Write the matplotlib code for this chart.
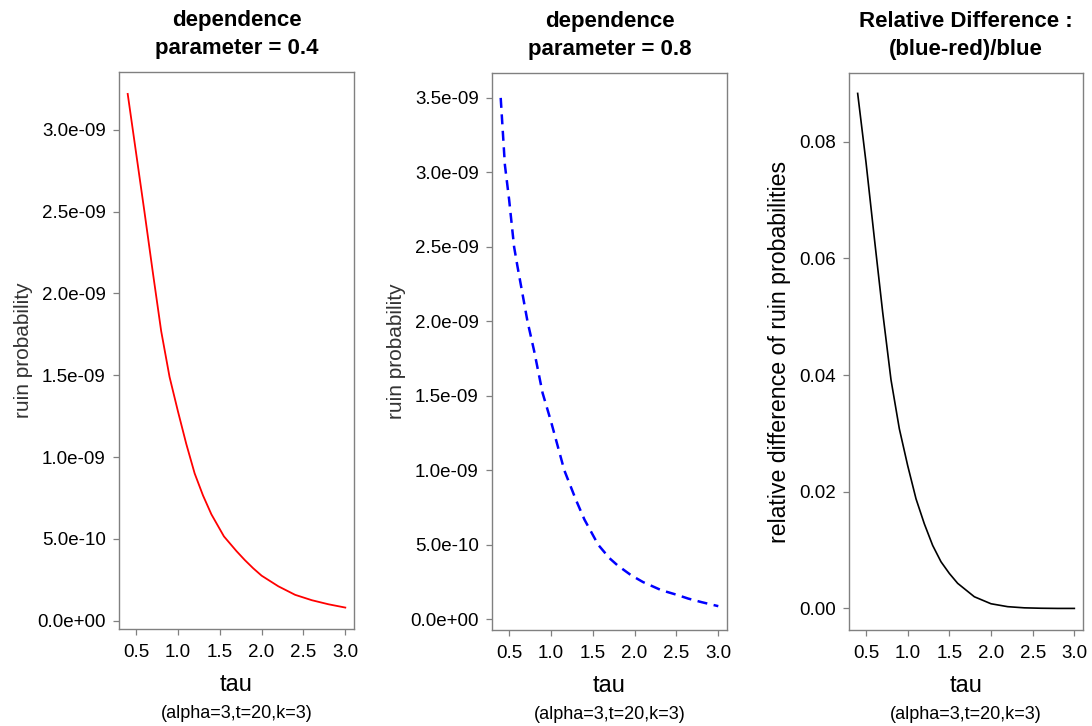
import matplotlib
matplotlib.use("Agg")
import matplotlib.pyplot as plt
from matplotlib.ticker import FuncFormatter
import numpy as np

plt.rcParams['font.family'] = ['Liberation Sans', 'DejaVu Sans']

# values
tau_red = [0.4, 0.5, 0.6, 0.7, 0.8, 0.9, 1.0, 1.1, 1.2, 1.3, 1.4, 1.5, 1.55, 1.6,
           1.7, 1.8, 1.9, 2.0, 2.2, 2.4, 2.6, 2.8, 3.0]
ruin_red = [3.22, 2.86, 2.50, 2.13, 1.77, 1.49, 1.28, 1.08, 0.90, 0.765, 0.65, 0.56,
            0.515, 0.485, 0.425, 0.37, 0.32, 0.275, 0.21, 0.158, 0.125, 0.10, 0.08]  # x 1e-9

tau_blue = [0.4, 0.45, 0.5, 0.56, 0.6, 0.72, 0.8, 0.9, 1.0, 1.16, 1.3, 1.4, 1.565,
            1.7, 1.8, 1.96, 2.1, 2.32, 2.5, 2.64, 2.8, 3.0]
ruin_blue = [3.50, 3.05, 2.82, 2.50, 2.37, 2.00, 1.80, 1.52, 1.33, 1.00, 0.80, 0.67,
             0.50, 0.41, 0.36, 0.295, 0.25, 0.195, 0.165, 0.139, 0.115, 0.088]  # x 1e-9

tau_diff = [0.4, 0.5, 0.6, 0.7, 0.8, 0.9, 1.0, 1.1, 1.2, 1.3, 1.4, 1.5, 1.6, 1.8,
            2.0, 2.2, 2.4, 2.6, 2.8, 3.0]
rel_diff = [0.0883, 0.0765, 0.0635, 0.0508, 0.0392, 0.0308, 0.0245, 0.0188, 0.0145,
            0.0108, 0.0080, 0.0060, 0.0043, 0.0020, 0.0008, 0.0003, 0.0001,
            0.00003, 0.0, 0.0]

xticks = [0.5, 1.0, 1.5, 2.0, 2.5, 3.0]
prob_ticks = [0.0, 0.5e-9, 1.0e-9, 1.5e-9, 2.0e-9, 2.5e-9, 3.0e-9, 3.5e-9]
diff_ticks = [0.00, 0.02, 0.04, 0.06, 0.08]

fig = plt.figure(figsize=(10.92, 7.26), dpi=100)
W, H = 1092.0, 726.0

def box(x0, x1, y0, y1):
    return [x0 / W, 1 - y1 / H, (x1 - x0) / W, (y1 - y0) / H]

ax1 = fig.add_axes(box(119, 354, 72, 629))
ax2 = fig.add_axes(box(492, 727, 73, 630))
ax3 = fig.add_axes(box(849, 1083, 73, 630))

ax1.plot(tau_red, np.array(ruin_red) * 1e-9, color='red', lw=1.3)
ax2.plot(tau_blue, np.array(ruin_blue) * 1e-9, color='blue', lw=1.8,
         dashes=(4, 2.6))
ax3.plot(tau_diff, rel_diff, color='black', lw=1.2)

sci = FuncFormatter(lambda v, p: "%.1e" % v)

for ax in (ax1, ax2, ax3):
    ax.set_xlim(0.296, 3.104)
    ax.set_xticks(xticks)
    ax.set_xticklabels(["%.1f" % t for t in xticks])
    for s in ax.spines.values():
        s.set_color('#808080')
        s.set_linewidth(1.0)
    ax.tick_params(direction='out', length=4.5, width=0.9, color='#808080',
                   labelsize=13.5, pad=6)
    ax.tick_params(axis='y', pad=5)
    ax.set_xlabel('tau', fontsize=17, labelpad=10)
    ax.text(0.5, -0.136, '(alpha=3,t=20,k=3)', transform=ax.transAxes,
            ha='center', va='top', fontsize=13)

ax1.set_ylim(-0.051e-9, 3.354e-9)
ax1.set_yticks(prob_ticks[:7])
ax1.yaxis.set_major_formatter(sci)
ax1.set_ylabel('ruin probability', fontsize=15, color='#333333', labelpad=3)
ax1.set_title('dependence\nparameter = 0.4', fontsize=16, fontweight='bold',
              linespacing=1.45, pad=13)

ax2.set_ylim(-0.072e-9, 3.667e-9)
ax2.set_yticks(prob_ticks)
ax2.yaxis.set_major_formatter(sci)
ax2.set_ylabel('ruin probability', fontsize=15, color='#333333', labelpad=3)
ax2.set_title('dependence\nparameter = 0.8', fontsize=16, fontweight='bold',
              linespacing=1.45, pad=13)

ax3.set_ylim(-0.0037, 0.0918)
ax3.set_yticks(diff_ticks)
ax3.yaxis.set_major_formatter(FuncFormatter(lambda v, p: "%.2f" % v))
ax3.set_ylabel('relative difference of ruin probabilities', fontsize=16.7,
               labelpad=6)
ax3.set_title('Relative Difference :\n(blue-red)/blue', fontsize=16,
              fontweight='bold', linespacing=1.45, pad=13)

fig.savefig('out.png', dpi=100)
